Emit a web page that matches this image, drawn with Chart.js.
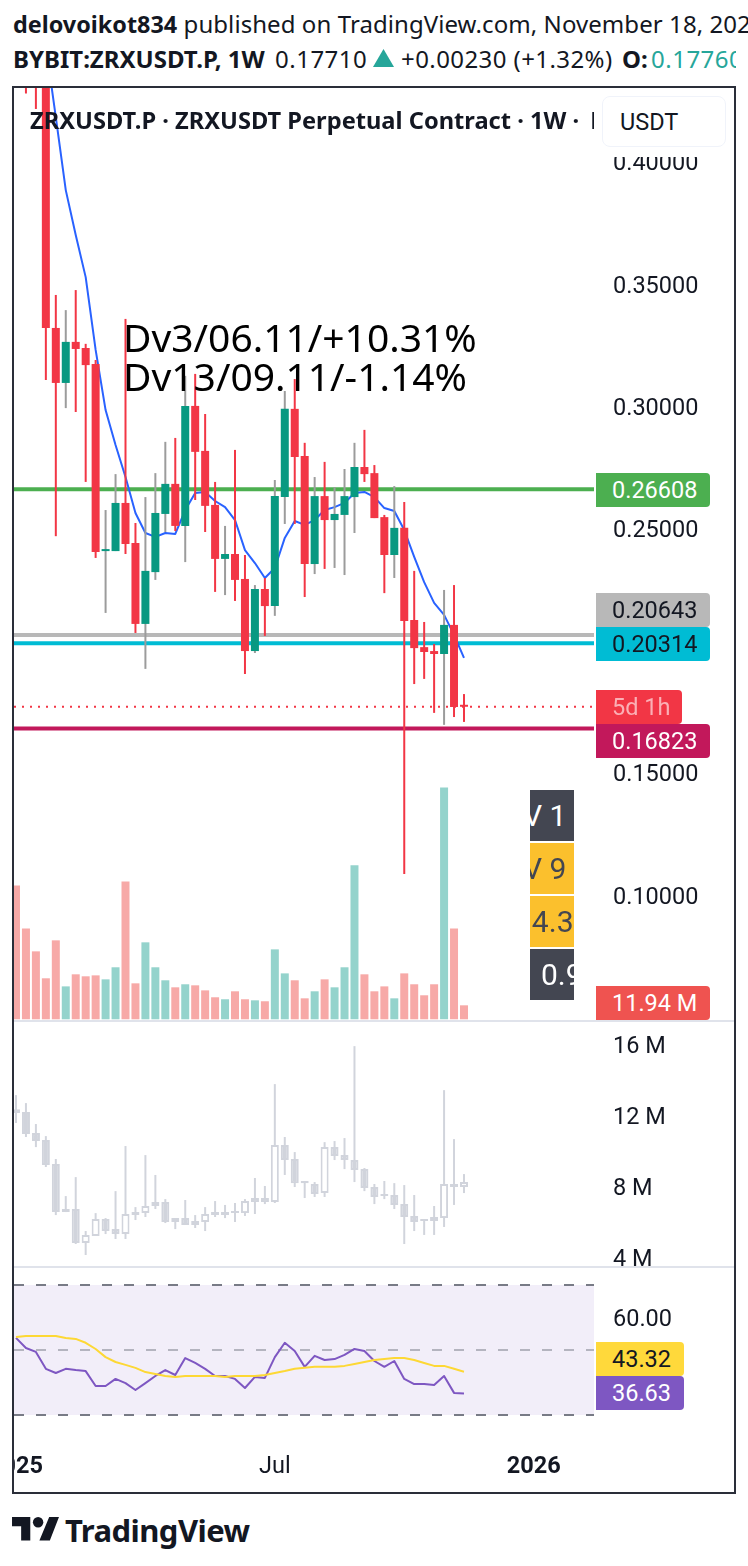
<!DOCTYPE html>
<html><head><meta charset="utf-8">
<script src="https://cdn.jsdelivr.net/npm/chart.js@4"></script>
<style>
html,body{margin:0;padding:0;background:#fff;width:748px;height:1566px;overflow:hidden;font-family:"Noto Sans",sans-serif;color:#131722}
canvas{position:absolute;left:14px;display:block}
.t{position:absolute;white-space:pre;line-height:34px;font-size:24px}
.b{font-weight:700}
.lab{position:absolute;left:596px;height:34px;font:23.5px/34px Roboto;padding-left:16px;box-sizing:border-box;border-radius:0 4px 4px 0;white-space:pre;color:#fff}
.st{position:absolute;left:530px;width:44px;height:51px;overflow:hidden;font:30px/51px Roboto;white-space:pre;color:#fff}
.sep{position:absolute;left:14px;width:721px;height:2px;background:#E0E3EB}
</style></head><body>
<canvas id="c1" width="721" height="932" style="top:88px"></canvas>
<canvas id="c2" width="721" height="244" style="top:1022px"></canvas>
<canvas id="c3" width="721" height="224" style="top:1268px"></canvas>
<div class="sep" style="top:1020px"></div>
<div class="sep" style="top:1266px"></div>

<div class="t" style="left:13px;top:7px"><span class="b" style="font-size:23.4px">delovoikot834</span><span style="letter-spacing:.07px"> published on TradingView.com, November 18, 2025</span></div>
<div class="t b" style="left:13px;top:42px">BYBIT:ZRXUSDT.P, 1W</div>
<div class="t" style="left:275px;top:42px;letter-spacing:.5px">0.17710</div>
<svg style="position:absolute;left:373px;top:49px" width="21" height="18"><path d="M10.5 0L21 18H0z" fill="#26A69A"/></svg>
<div class="t" style="left:401px;top:42px;letter-spacing:.42px">+0.00230 (+1.32%)</div>
<div class="t b" style="left:622px;top:42px">O:</div>
<div class="t" style="left:651px;top:42px;width:85px;overflow:hidden;color:#26A69A;letter-spacing:.5px">0.17760</div>

<div class="t b" style="left:30px;top:103px;width:564px;overflow:hidden;height:34px;font-size:23.65px">ZRXUSDT.P · ZRXUSDT Perpetual Contract · 1W · <span style="margin-left:5px">Bybit</span></div>
<div style="position:absolute;left:602px;top:96px;width:124px;height:51px;box-sizing:border-box;border:1px solid #F0F3FA;border-radius:8px;background:#fff;font:23.5px/50px Roboto;padding-left:17px">USDT</div>
<div style="position:absolute;left:602px;top:147px;width:124px;height:10px;background:#fff"></div>

<div style="position:absolute;left:123px;top:317px;font:39px/39px 'Noto Sans';color:#000;white-space:pre">Dv3/06.11/+10.31%
Dv13/09.11/-1.14%</div>

<div class="st" style="top:790px;background:#434651"><span style="position:absolute;left:-7px">V 1</span></div>
<div class="st" style="top:843px;background:#FBC02D;color:#434651"><span style="position:absolute;left:-7px">V 9</span></div>
<div class="st" style="top:896px;background:#FBC02D;color:#434651"><span style="position:absolute;left:-15px">14.38</span></div>
<div class="st" style="top:949px;background:#434651"><span style="position:absolute;left:11px">0.95</span></div>

<div class="lab" style="top:473px;width:114px;background:#4CAF50">0.26608</div>
<div class="lab" style="top:593px;width:114px;background:#B8B8B8;color:#131722">0.20643</div>
<div class="lab" style="top:627px;width:114px;background:#00BCD4;color:#131722">0.20314</div>
<div class="lab" style="top:690px;width:86px;background:#F23645;color:#FBAFB5">5d 1h</div>
<div class="lab" style="top:724px;width:114px;background:#C2185B">0.16823</div>
<div class="lab" style="top:986px;width:114px;background:#EF5350">11.94 M</div>
<div class="lab" style="top:1342px;width:88px;background:#FFD93B;color:#131722">43.32</div>
<div class="lab" style="top:1376px;width:88px;background:#7E57C2">36.63</div>

<div style="position:absolute;left:12px;top:86px;width:724px;height:1408px;box-sizing:border-box;border:2px solid #2A2E39;pointer-events:none"></div>

<svg style="position:absolute;left:12px;top:1517px" width="47" height="30" viewBox="0 0 36 23"><path d="M14 18H7V7H0V0h14zM29 18h-8L28.5 0h7.5z" fill="#131722"/><circle cx="20" cy="4" r="4" fill="#131722"/></svg>
<div style="position:absolute;left:65px;top:1509px;font:700 31px/42px 'Noto Sans';letter-spacing:-.55px;white-space:pre">TradingView</div>

<script>
// ---- price candles (USDT) ----
const priceOpen  = [.6200,.5500,.5000,.4600,.3321,.3096,.3264,.3239,.3173,.2408,.2408,.2605,.2441,.2110,.2322,.2560,.2683,.2511,.3002,.2818,.2597,.2376,.2396,.2294,.1999,.2253,.2183,.2629,.2990,.2797,.2355,.2633,.2535,.2556,.2629,.2752,.2727,.2547,.2392,.2503,.2126,.2015,.1999,.1987,.2106,.1776];
const priceClose = [.5500,.5000,.4600,.3321,.3096,.3264,.3235,.3169,.2404,.2416,.2605,.2437,.2110,.2327,.2564,.2683,.2511,.3002,.2814,.2593,.2376,.2396,.2290,.1999,.2253,.2183,.2633,.2990,.2793,.2355,.2633,.2535,.2560,.2633,.2752,.2723,.2543,.2392,.2503,.2122,.2011,.1995,.1987,.2106,.1770,.1771];
const priceHigh  = [.6600,.6000,.5200,.5000,.3456,.3394,.3476,.3256,.3190,.2576,.2723,.3358,.2523,.2629,.2727,.2855,.2871,.3125,.3133,.2969,.2691,.2511,.2822,.2392,.2269,.2298,.2699,.3063,.3112,.2851,.2711,.2773,.2670,.2744,.2851,.2904,.2760,.2556,.2674,.2609,.2327,.2118,.2028,.2249,.2269,.1823];
const priceLow   = [.5000,.4280,.4217,.3108,.2469,.2993,.2977,.2691,.2380,.2155,.2408,.2396,.2073,.1926,.2290,.2486,.2490,.2363,.2617,.2486,.2241,.2228,.2204,.1905,.1991,.2061,.2143,.2519,.2519,.2220,.2314,.2335,.2339,.2310,.2482,.2691,.2543,.2236,.2298,.1087,.1864,.1885,.1746,.1697,.1729,.1709];
const priceMA    = [null,null,null,.4475,.4184,.3885,.3701,.3529,.3231,.2985,.2842,.2711,.2564,.2482,.2466,.2482,.2478,.2576,.2646,.2650,.2613,.2588,.2535,.2412,.2359,.2298,.2339,.2462,.2531,.2515,.2535,.2576,.2588,.2605,.2646,.2650,.2629,.2584,.2572,.2494,.2384,.2281,.2196,.2147,.2065,.1971];
const barIsUp    = priceOpen.map((o,i)=>priceClose[i]>=o);
// ---- volume (millions) ----
const volume = [114.3,77.6,58.0,35.0,67.4,28.1,38.4,36.7,37.5,34.1,44.4,117.7,30.7,65.7,44.4,33.3,27.3,29.9,29.0,24.7,18.8,17.1,23.9,17.1,16.2,15.4,59.7,39.2,33.3,17.9,23.9,34.1,27.3,44.4,131.4,38.4,23.9,28.1,17.9,39.2,29.9,20.5,29.9,197.9,77.6,11.94];
// ---- horizontal levels ----
const levelGreen = .26608, levelGray = .20643, levelCyan = .20314, levelCrimson = .16823, lastPrice = .1771;
const priceTicks = [.40,.35,.30,.25,.15,.10];
// ---- second pane candles (millions) ----
const p2Open  = [12.39,12.23,11.04,10.65,9.30,6.76,6.76,4.84,5.24,6.20,5.63,5.35,6.42,6.53,6.93,7.15,6.25,6.25,6.08,6.03,6.42,6.42,6.53,6.53,7.15,7.15,7.15,10.37,9.58,8.34,8.17,7.66,10.25,9.80,9.52,9.01,8.00,7.61,7.55,7.04,6.37,6.20,6.31,6.25,8.00,8.00];
const p2Close = [12.17,10.99,10.59,9.24,6.59,6.59,4.84,5.30,6.20,5.52,5.35,6.48,6.59,6.93,7.15,6.03,6.03,5.86,5.86,6.48,6.59,6.59,6.65,7.21,7.38,7.38,10.37,9.52,8.22,8.22,7.61,10.25,9.75,9.52,8.96,7.94,7.44,7.49,6.99,6.31,6.03,6.08,6.08,8.17,8.17,8.28];
const p2High  = [13.18,12.73,11.55,10.87,9.58,7.49,8.56,5.52,6.53,6.25,7.77,10.31,6.87,9.80,8.68,7.32,6.25,7.27,6.42,6.87,7.21,6.99,7.10,7.32,8.51,8.06,13.80,10.82,9.97,8.34,8.28,10.53,10.59,10.76,15.94,9.07,8.17,8.34,8.22,8.11,7.55,6.20,6.93,13.46,10.70,8.73];
const p2Low   = [11.61,10.82,10.25,9.13,6.42,6.59,4.79,4.17,5.24,5.35,5.07,5.07,6.14,6.31,6.76,5.97,5.63,5.86,5.69,5.52,6.31,6.25,6.03,6.37,6.48,7.04,7.10,8.68,8.00,7.38,7.44,7.44,9.52,9.01,8.28,7.77,7.04,7.32,6.76,4.79,5.52,5.30,5.30,5.75,6.99,7.66];
const p2Ticks = [16,12,8,4];
// ---- oscillator ----
const rsi    = [53.7,50.6,49.4,44.2,42.9,44.2,43.8,43.5,38.9,38.9,41.1,39.8,37.7,39.8,42.0,43.8,42.3,47.5,46.0,44.2,42.0,42.0,41.1,38.3,41.7,41.4,47.8,52.2,49.7,44.8,48.2,46.9,47.2,48.5,50.3,49.7,46.6,44.8,46.6,41.1,39.5,39.5,39.2,42.0,36.8,36.63];
const rsiMA  = [54.0,54.3,54.3,54.3,54.3,53.7,53.4,52.2,50.3,47.8,46.3,45.4,44.5,43.2,42.6,42.0,41.7,42.0,42.0,42.0,42.0,41.7,42.0,42.0,42.0,42.3,42.9,43.5,44.2,44.5,44.8,44.8,44.8,45.1,45.7,46.3,46.9,47.2,47.5,47.5,46.9,46.0,45.1,45.1,44.2,43.32];
const rsiUpper = 70, rsiMiddle = 50, rsiLower = 30;
const rsiTicks = [60];
// ---- time axis (bar index of each label) ----
const timeTickIndex = [0,26,52];
const timeLabels = ['2025','Jul','2026'];
const timeBold   = [true,false,true];

const GREEN='#089981', RED='#F23645', WICKGRAY='#9C9C9C', SOFT='#D1D4DC';
const xMin=-0.2, xMax=58.06;
const fixedY = w => s => { s.width = w; s.paddingTop = 0; s.paddingBottom = 0; };
const tickFont = {family:'Roboto', size:23.5};
const xHidden = {type:'linear', min:xMin, max:xMax, offset:false, display:false, grid:{display:false}};
const span = v => [{x:xMin,y:v},{x:xMax,y:v}];
const idx = arr => arr.map((v,i)=>({x:i,y:v}));
const range = (a,b) => a.map((v,i)=>({x:i,y:[Math.min(v,b[i]),Math.max(v,b[i])]}));
const yAxis = (min,max,ticks,fmt) => ({
  position:'right', min, max,
  grid:{display:false, drawTicks:false}, border:{display:false},
  afterBuildTicks:s=>{ s.ticks = ticks.map(v=>({value:v})); },
  afterFit:fixedY(141),
  ticks:{autoSkip:false, padding:19, labelOffset:2.5, color:'#131722', font:tickFont, callback:fmt}
});
const base = {responsive:false, maintainAspectRatio:false, animation:false, events:[],
  layout:{padding:0}, plugins:{legend:{display:false},tooltip:{enabled:false}}};
const hline = (v,color,width,order,dash) => ({type:'line', data:span(v), borderColor:color, borderWidth:width, pointRadius:0, order, borderDash:dash||[], yAxisID:'y', borderCapStyle:'butt'});
const line = (arr,color,width,order,yAxisID) => ({type:'line', data:idx(arr), borderColor:color, borderWidth:width, pointRadius:0, tension:0, order, yAxisID:yAxisID||'y', borderJoinStyle:'round'});
const bars = (data,colors,width,order,extra) => Object.assign({type:'bar', data, backgroundColor:colors, barThickness:width, grouped:false, order, inflateAmount:0, borderSkipped:false, yAxisID:'y'},extra||{});

new Chart(document.getElementById('c1'),{
  type:'bar',
  data:{datasets:[
    bars(range(priceOpen,priceClose), barIsUp.map(u=>u?GREEN:RED), 8, 1, {minBarLength:2}),
    bars(range(priceLow,priceHigh), barIsUp.map(u=>u?WICKGRAY:RED), 2, 2),
    line(priceMA,'#2962FF',2,3),
    hline(lastPrice,RED,2,4,[2,6]),
    hline(levelGreen,'#4CAF50',4,5),
    hline(levelGray,'#B8B8B8',4,5),
    hline(levelCyan,'#00BCD4',4,5),
    hline(levelCrimson,'#C2185B',4,5),
    bars(idx(volume), barIsUp.map(u=>u?'#94D3CC':'#F7A9A7'), 8, 6, {yAxisID:'v'})
  ]},
  options:Object.assign({},base,{scales:{
    x:xHidden,
    y:yAxis(.04894,.43028,priceTicks,v=>v.toFixed(5)),
    v:{display:false,min:-0.6,max:795,grid:{display:false}}
  }})
});

new Chart(document.getElementById('c2'),{
  type:'bar',
  data:{datasets:[
    bars(range(p2Open,p2Close), p2Open.map((o,i)=>p2Close[i]>=o?'#FFFFFF':SOFT), 8, 1, {borderColor:SOFT,borderWidth:2,minBarLength:2}),
    bars(range(p2Low,p2High), SOFT, 2, 2)
  ]},
  options:Object.assign({},base,{scales:{
    x:xHidden,
    y:yAxis(3.55,17.30,p2Ticks,v=>v+' M')
  }})
});

new Chart(document.getElementById('c3'),{
  type:'line',
  data:{datasets:[
    line(rsiMA,'#FDD835',2,1),
    line(rsi,'#7E57C2',2,2),
    {type:'line',data:span(rsiUpper),borderColor:'#787B86',borderWidth:2,borderDash:[10,12],pointRadius:0,order:3,borderCapStyle:'butt'},
    {type:'line',data:span(rsiMiddle),borderColor:'rgba(120,123,134,.5)',borderWidth:2,borderDash:[10,12],pointRadius:0,order:3,borderCapStyle:'butt'},
    {type:'line',data:span(rsiLower),borderColor:'#787B86',borderWidth:2,borderDash:[10,12],pointRadius:0,order:3,borderCapStyle:'butt'},
    {type:'line',data:span(rsiUpper),borderWidth:0,pointRadius:0,order:4,fill:{value:rsiLower},backgroundColor:'rgba(126,87,194,.1)'}
  ]},
  options:Object.assign({},base,{scales:{
    x:{type:'linear',min:xMin,max:xMax,offset:false,
      grid:{display:false,drawTicks:false},border:{display:false},
      afterBuildTicks:s=>{ s.ticks = timeTickIndex.map(v=>({value:v})); },
      afterFit:s=>{ s.height=48; s.paddingLeft=0; s.paddingRight=0; },
      ticks:{autoSkip:false,maxRotation:0,minRotation:0,padding:9,color:'#131722',
        callback:(v,i)=>timeLabels[i],
        font:c=>({family:'Roboto',size:23.5,weight:timeBold[c.index]?'700':'400'})}
    },
    y:yAxis(21.08,75.2,rsiTicks,v=>v.toFixed(2))
  }})
});
</script>
</body></html>
